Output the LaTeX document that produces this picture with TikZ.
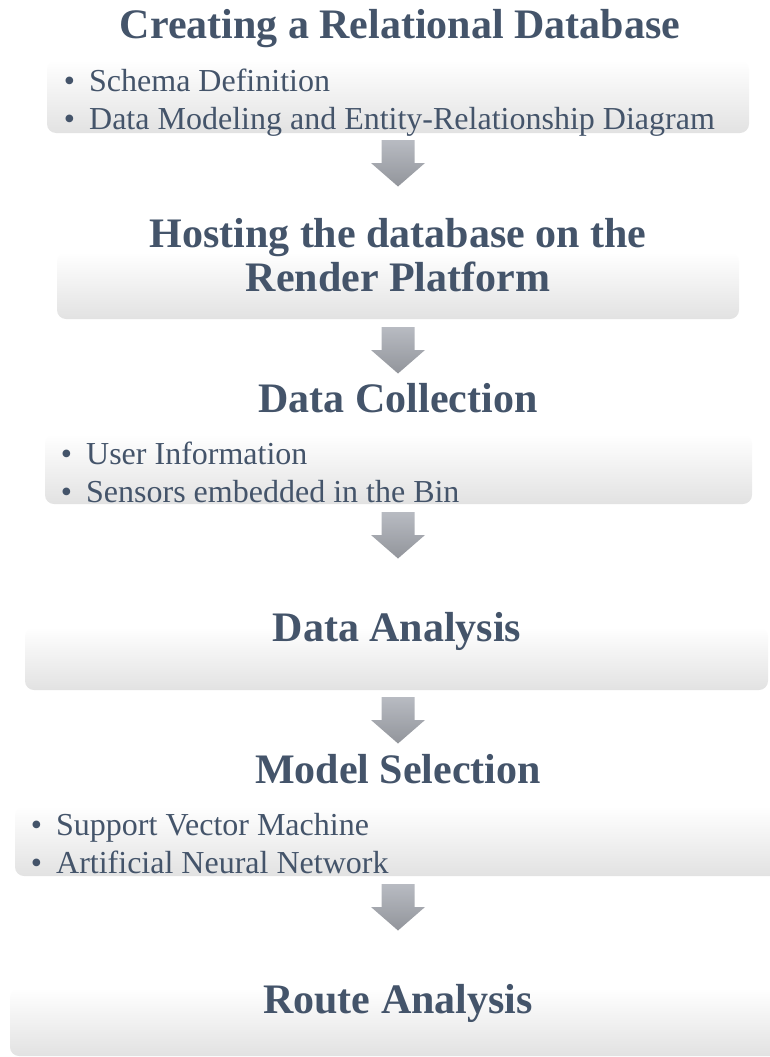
\documentclass[tikz,border=0pt]{standalone}
\usepackage{fontspec}
\setmainfont{Liberation Serif}
\definecolor{ink}{RGB}{68,84,106}
\definecolor{panelbot}{RGB}{226,226,226}
\definecolor{arrowtop}{RGB}{184,187,194}
\definecolor{arrowbot}{RGB}{146,149,155}
\tikzset{
  heading/.style={inner sep=0pt, anchor=base, text=ink,
    font=\fontsize{42}{44}\selectfont\bfseries},
  item/.style={inner sep=0pt, anchor=base west, text=ink,
    font=\fontsize{32}{38}\selectfont},
  panel/.style={top color=white, bottom color=panelbot, rounded corners=9pt},
  flowarrow/.style={top color=arrowtop, bottom color=arrowbot},
}
% bullet hung to the left of an item's text
\newcommand\bul{\llap{\textbullet\hspace{14pt}}}
% block arrow pointing down, drawn from the centre of its tail
\newcommand\downblock[1]{%
  \shade[flowarrow] (#1) ++(-16.5,0) -- ++(33,0) -- ++(0,23) -- ++(10.5,0)
    -- ++(-27,23.5) -- ++(-27,-23.5) -- ++(10.5,0) -- cycle;}

\begin{document}
\begin{tikzpicture}[x=1pt, y=-1pt]
\useasboundingbox (0,0) rectangle (770,1057);

% panels behind the steps
\shade[panel] (47,60) rectangle (749,133);
\shade[panel] (57,252) rectangle (739,319);
\shade[panel] (45,434) rectangle (752,504);
\shade[panel] (25,627) rectangle (768,690);
\shade[panel] (15,806) rectangle (800,876);
\shade[panel] (10,988) rectangle (800,1056);

% step 1
\node[heading] (t1) at (400,38) {Creating a Relational Database};
\node[item] (i11) at (89,92) {\bul Schema Definition};
\node[item] (i12) at (89,129) {\bul Data Modeling and Entity-Relationship Diagram};

% step 2
\node[heading] (t2a) at (398,247) {Hosting the database on the};
\node[heading] (t2b) at (398,291) {Render Platform};

% step 3
\node[heading] (t3) at (398,412) {Data Collection};
\node[item] (i31) at (86,464) {\bul User Information};
\node[item] (i32) at (86,502) {\bul Sensors embedded in the Bin};

% step 4
\node[heading] (t4) at (397,641) {Data Analysis};

% step 5
\node[heading] (t5) at (398,783) {Model Selection};
\node[item] (i51) at (56,835) {\bul Support Vector Machine};
\node[item] (i52) at (56,873) {\bul Artificial Neural Network};

% step 6
\node[heading] (t6) at (398,1013) {Route Analysis};

% arrows between the steps
\coordinate (a1) at (398,140);
\coordinate (a2) at (398,327);
\coordinate (a3) at (398,512);
\coordinate (a4) at (398,697);
\coordinate (a5) at (398,884);
\downblock{a1}
\downblock{a2}
\downblock{a3}
\downblock{a4}
\downblock{a5}
\end{tikzpicture}
\end{document}
